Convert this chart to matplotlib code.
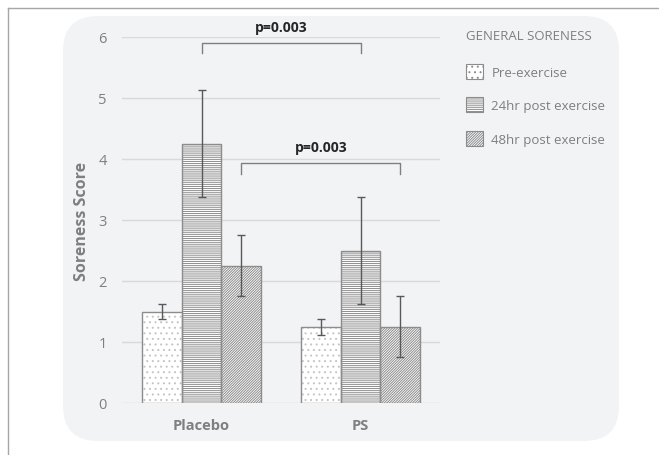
import numpy as np
import matplotlib
matplotlib.use("Agg")
import matplotlib.pyplot as plt
from matplotlib.patches import FancyBboxPatch, Patch

plt.rcParams['font.family'] = ['Open Sans', 'DejaVu Sans']
plt.rcParams['hatch.linewidth'] = 0.7

# data
groups = ['Placebo', 'PS']
series = ['Pre-exercise', '24hr post exercise', '48hr post exercise']
means = {
    'Pre-exercise': [1.5, 1.25],
    '24hr post exercise': [4.25, 2.5],
    '48hr post exercise': [2.25, 1.25],
}
errors = {
    'Pre-exercise': [0.12, 0.13],
    '24hr post exercise': [0.88, 0.87],
    '48hr post exercise': [0.5, 0.5],
}
hatches = ['...', '--------', '/////////////']
hatch_colors = ['#c4c4c4', '#8c8c8c', '#8c8c8c']
pvals = ['p=0.003', 'p=0.003']

txt = '#7f7f7f'
fig = plt.figure(figsize=(6.59, 4.56), dpi=100)

# background panel + frame (pixel coordinates)
bg = fig.add_axes([0, 0, 1, 1])
bg.set_xlim(0, 659)
bg.set_ylim(456, 0)
bg.axis('off')
bg.add_patch(FancyBboxPatch((63, 17), 556, 425,
                            boxstyle="round,pad=0,rounding_size=35",
                            facecolor='#f2f3f5', edgecolor='none'))
bg.plot([8, 659], [9, 9], color='#a6a6a6', lw=1)
bg.plot([8, 8], [9, 456], color='#a6a6a6', lw=1)

ax = fig.add_axes([122/659, 1-404/456, 318/659, 366/456])
ax.patch.set_alpha(0)
x = np.arange(len(groups))
w = 0.25
for i, s in enumerate(series):
    pos = x + (i - 1) * w
    ax.bar(pos, means[s], w, color='white', edgecolor=hatch_colors[i],
           hatch=hatches[i], linewidth=0, zorder=2)
    ax.bar(pos, means[s], w, fill=False, edgecolor='#8c8c8c', linewidth=1, zorder=3)
    ax.errorbar(pos, means[s], yerr=errors[s], fmt='none', ecolor='#595959',
                elinewidth=1, capsize=3, capthick=1, zorder=4)

ax.set_xlim(-0.5, 1.5)
ax.set_ylim(0, 6)
ax.set_yticks(range(7))
ax.set_xticks(x)
ax.set_xticklabels(groups, fontweight='bold', fontsize=10.5, color=txt)
ax.tick_params(axis='y', length=0, pad=11, labelsize=10.5, labelcolor=txt)
ax.tick_params(axis='x', length=0, pad=11)
ax.grid(axis='y', color='#d9d9d9', lw=1, zorder=0)
for sp in ax.spines.values():
    sp.set_visible(False)
ax.set_ylabel('Soreness Score', fontsize=11.5, fontweight='bold', color=txt, labelpad=6)

# significance brackets
brackets = [(x[0], x[1], 5.90, 5.74), (x[0] + w, x[1] + w, 3.93, 3.75)]
for (x0, x1, ytop, ybot), p in zip(brackets, pvals):
    ax.plot([x0, x0, x1, x1], [ybot, ytop, ytop, ybot], color='#7f7f7f',
            lw=1, clip_on=False, zorder=5)
    ax.text((x0 + x1) / 2, ytop + 0.26, p, ha='center', va='center',
            fontsize=10, fontweight='bold', color='#262626', clip_on=False)

handles = [Patch(facecolor='white', edgecolor=hatch_colors[i], hatch=hatches[i], lw=0)
           for i in range(3)]
leg = ax.legend(handles, series, title='GENERAL SORENESS', loc='upper left',
                bbox_to_anchor=(459/659, 1-23/456), bbox_transform=fig.transFigure,
                frameon=False, fontsize=9.5, title_fontsize=9.5,
                handlelength=1.35, handleheight=1.35, handletextpad=0.6,
                labelspacing=1.42, alignment='left', borderpad=0)
leg.get_title().set_color(txt)
for t in leg.get_texts():
    t.set_color(txt)
for h in leg.legend_handles:
    h.set_edgecolor('#8c8c8c')
    h.set_linewidth(0.8)
leg._legend_box.sep = 16

fig.savefig('out.png', dpi=100)
